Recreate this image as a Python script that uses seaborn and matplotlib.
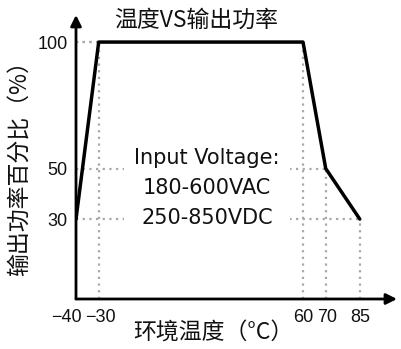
import matplotlib
matplotlib.use("Agg")
import matplotlib.pyplot as plt
import matplotlib.transforms as mtransforms
import seaborn as sns
import pandas as pd

# Derating curve: ambient temperature vs. output power percentage
temps = [-40, -30, 60, 70, 85]
power = [30, 100, 100, 50, 30]
x_ticks = [-40, -30, 60, 70, 85]
y_ticks = [30, 50, 100]

sns.set_theme(style="white")
plt.rcParams["font.family"] = ["Noto Sans CJK SC", "DejaVu Sans"]

df = pd.DataFrame({"temp": temps, "power": power})

fig = plt.figure(figsize=(4.01, 3.49), dpi=100)
ax = fig.add_axes([76 / 401, 50 / 349, 321 / 401, 284 / 349])

x_lo, x_hi = -40, 101.4
y_lo, y_hi = -1.6, 110.7
ax.set_xlim(x_lo, x_hi)
ax.set_ylim(y_lo, y_hi)

# dotted guide lines from the axes to each corner of the curve
grid_kw = dict(color="#a8a8a8", linestyle=(0, (1, 2)), linewidth=1.6, zorder=1)
for t, p in zip(temps[1:], power[1:]):
    ax.hlines(p, x_lo, t, **grid_kw)
    ax.vlines(t, y_lo, p, **grid_kw)

sns.lineplot(data=df, x="temp", y="power", ax=ax, color="black",
             linewidth=2.5, sort=False, zorder=3)
ax.set_xlabel("")
ax.set_ylabel("")

for s in ax.spines.values():
    s.set_visible(False)

# axis arrows
arrow_kw = dict(arrowstyle="-|>", color="black", lw=2.0,
                mutation_scale=16, shrinkA=0, shrinkB=0)
ax.annotate("", xy=(1, 0), xytext=(0, 0), xycoords="axes fraction",
            arrowprops=arrow_kw, annotation_clip=False, zorder=4)
ax.annotate("", xy=(0, 1), xytext=(0, 0), xycoords="axes fraction",
            arrowprops=arrow_kw, annotation_clip=False, zorder=4)

ax.set_xticks(x_ticks)
ax.set_xticklabels([f"{v:d}".replace("-", "\u2212") for v in x_ticks])
ax.set_yticks(y_ticks)
ax.set_yticklabels([str(v) for v in y_ticks])
ax.tick_params(axis="both", length=0, labelsize=13, colors="#111111")
ax.tick_params(axis="x", pad=7)
ax.tick_params(axis="y", pad=6)
for lab in ax.get_xticklabels() + ax.get_yticklabels():
    lab.set_fontfamily(["Liberation Sans", "DejaVu Sans"])

# nudge crowded x tick labels apart
shifts = {-40: -10, -30: 2, 60: 0, 70: 1, 85: 0}
for v, lab in zip(x_ticks, ax.get_xticklabels()):
    lab.set_transform(lab.get_transform() +
                      mtransforms.ScaledTranslation(shifts[v] / 100, 0, fig.dpi_scale_trans))

ax.text(0.408, 0.392, "Input Voltage:\n180-600VAC\n250-850VDC",
        transform=ax.transAxes, ha="center", va="center", multialignment="center",
        fontsize=15, linespacing=1.62, family=["DejaVu Sans"], color="#111111",
        bbox=dict(facecolor="white", edgecolor="none", pad=7), zorder=2)

fig.text(196 / 401, 1 - 20 / 349, "温度VS输出功率", ha="center", va="center",
         fontsize=16.5, color="#111111")
fig.text(20 / 401, 1 - 163 / 349, "输出功率百分比（%）", ha="center", va="center",
         rotation=90, fontsize=16.5, color="#111111")
fig.text(213 / 401, 1 - 333 / 349, "环境温度（°C）", ha="center", va="center",
         fontsize=16.5, color="#111111")

fig.savefig("out.png", dpi=100, facecolor="white")
